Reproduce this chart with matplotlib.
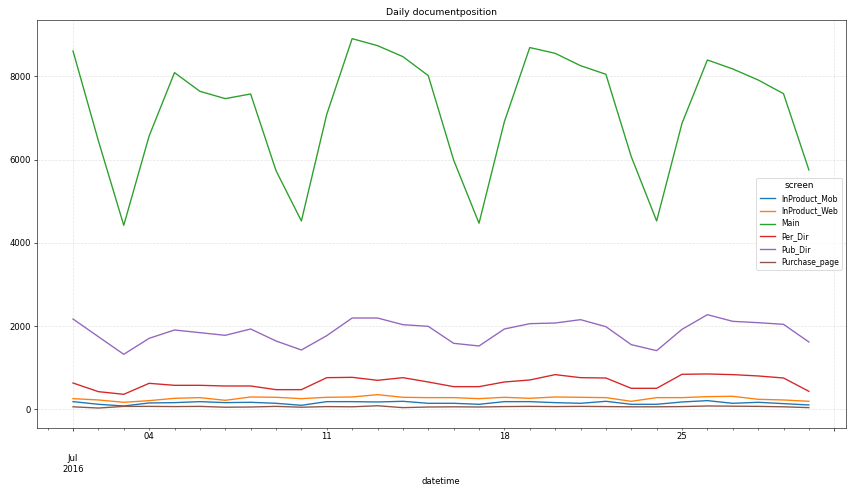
import matplotlib
matplotlib.use("Agg")
import matplotlib.pyplot as plt
import matplotlib.dates as mdates
import matplotlib.ticker as mticker
import pandas as pd
import numpy as np

dates = pd.date_range("2016-07-01", periods=30, freq="D")
series_names = ["InProduct_Mob", "InProduct_Web", "Main", "Per_Dir", "Pub_Dir", "Purchase_page"]

inproduct_mob = [184, 120, 80, 152, 160, 184, 160, 168, 144, 96, 184, 184, 176, 192, 144,
                 144, 120, 184, 184, 160, 144, 192, 120, 120, 176, 208, 144, 168, 136, 104]
inproduct_web = [256, 224, 168, 208, 264, 280, 216, 296, 288, 256, 288, 296, 352, 288, 280,
                 280, 256, 288, 264, 296, 288, 280, 192, 280, 280, 304, 312, 240, 224, 192]
main = [8608, 6450, 4420, 6566, 8088, 7639, 7463, 7575, 5733, 4524, 7087, 8904, 8736, 8472, 8016,
        5988, 4470, 6911, 8690, 8552, 8255, 8048, 6069, 4524, 6871, 8392, 8176, 7911, 7582, 5750]
per_dir = [632, 424, 360, 624, 576, 576, 560, 560, 472, 472, 760, 768, 696, 760, 656,
           544, 544, 656, 704, 833, 760, 752, 504, 504, 841, 849, 833, 801, 752, 432]
pub_dir = [2169, 1744, 1321, 1705, 1905, 1841, 1777, 1929, 1641, 1425, 1769, 2193, 2193, 2033, 1993,
           1585, 1521, 1929, 2057, 2073, 2153, 1985, 1553, 1409, 1921, 2273, 2113, 2081, 2041, 1617]
purchase_page = [60, 30, 70, 70, 65, 70, 50, 55, 70, 50, 65, 60, 85, 40, 55,
                 60, 55, 65, 70, 65, 70, 65, 60, 60, 65, 80, 75, 70, 60, 40]

series_values = [inproduct_mob, inproduct_web, main, per_dir, pub_dir, purchase_page]
colors = ["#1f77b4", "#ff7f0e", "#2ca02c", "#d62728", "#9467bd", "#8c564b"]
yticks = [0, 2000, 4000, 6000, 8000]
monday_labels = [4, 11, 18, 25]

fig = plt.figure(figsize=(14, 8.113), dpi=61.14)
ax = fig.add_axes([0.0429, 0.1377, 0.9451, 0.822])

for name, vals, c in zip(series_names, series_values, colors):
    ax.plot(dates, vals, color=c, linewidth=1.6, label=name)

x0 = mdates.date2num(pd.Timestamp("2016-07-01"))
ax.set_xlim(x0 - 1.43, x0 + 30.45)
ax.set_ylim(-442, 9353)
ax.set_yticks(yticks)

ax.xaxis.set_major_locator(mticker.FixedLocator([x0, x0 + 30]))
ax.xaxis.set_major_formatter(mticker.FixedFormatter(["\n\nJul\n2016", ""]))
ax.xaxis.set_minor_locator(mticker.FixedLocator([x0 + d for d in range(-1, 31) if d not in (0, 30)]))

def minor_fmt(x, pos):
    d = mdates.num2date(x)
    if d.day in monday_labels and d.month == 7:
        return "%02d" % d.day
    return ""

ax.xaxis.set_minor_formatter(mticker.FuncFormatter(minor_fmt))
ax.tick_params(axis="x", which="minor", labelsize=10)

ax.grid(True, which="major", linestyle="--", color="#b0b0b0", alpha=0.35, linewidth=0.8)
for s in ax.spines.values():
    s.set_color("#222222")

ax.set_title("Daily documentposition", fontsize=11)
ax.set_xlabel("datetime", fontsize=10)

leg = ax.legend(title="screen", loc="center right", fontsize=9, title_fontsize=10.5)

fig.savefig("out.png", dpi=61.14)
